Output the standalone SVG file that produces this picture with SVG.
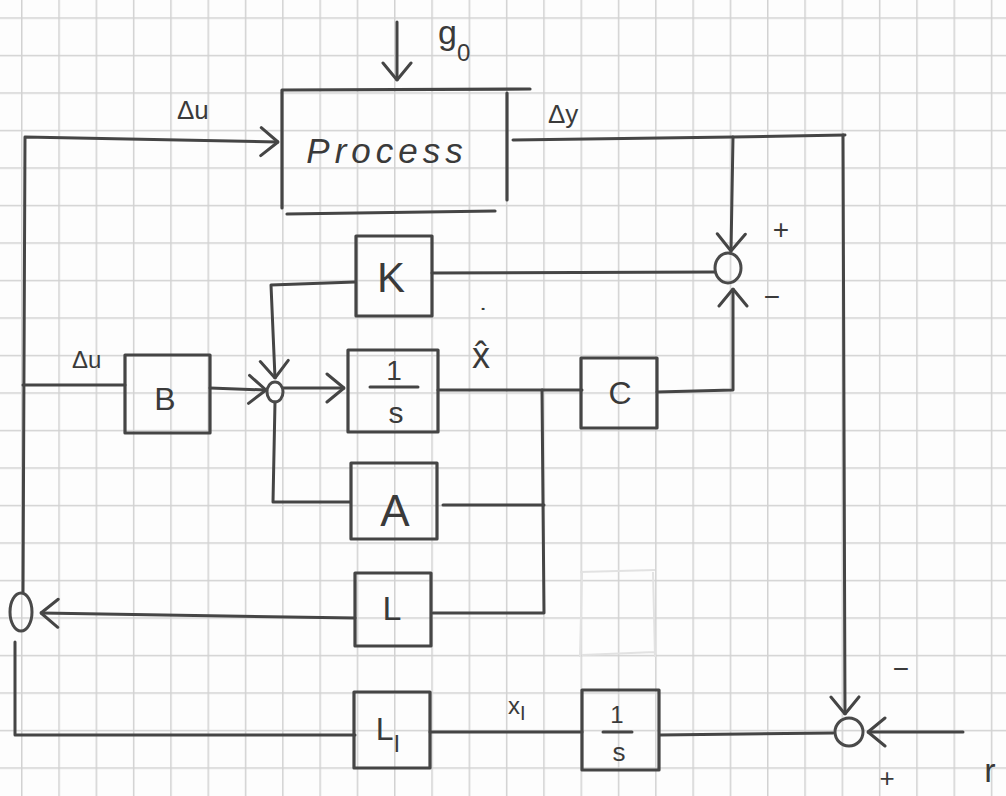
<svg xmlns="http://www.w3.org/2000/svg" width="1006" height="796" viewBox="0 0 1006 796">
<style>
.ln{fill:none;stroke:#454545;stroke-width:3;stroke-linecap:round;stroke-linejoin:round}
.bx{fill:none;stroke:#454545;stroke-width:3.2;stroke-linecap:round;stroke-linejoin:round}
.sm{fill:none;stroke:#4a4a4a;stroke-width:3}
.t{font-family:"Liberation Sans","DejaVu Sans",sans-serif;fill:#3a3a3a}
</style>
<defs>
<pattern id="grid" x="21" y="17.3" width="37.3" height="37.5" patternUnits="userSpaceOnUse">
<path d="M0.75,0 V37.5 M0,0.75 H37.3" stroke="#d2d2d2" stroke-width="1.5" fill="none"/>
</pattern>
<marker id="arr" viewBox="0 0 20 32" refX="19" refY="16" markerWidth="20" markerHeight="32" orient="auto" markerUnits="userSpaceOnUse">
<path d="M2,2 L19,16 L2,30" fill="none" stroke="#454545" stroke-width="3" stroke-linecap="round" stroke-linejoin="round"/>
</marker>
</defs>
<rect width="1006" height="796" fill="#fdfdfd"/>
<rect width="1006" height="796" fill="url(#grid)"/>
<!-- faint erased box -->
<path d="M580,572 L655,570 M582,572 L580,657 M653,572 L655,657 M582,655 L655,652" fill="none" stroke="#e2e2e2" stroke-width="2"/>

<g id="connectors">
<path class="ln" d="M23,593 L25,137 L278,142" marker-end="url(#arr)"/>
<path class="ln" d="M397,22 L397,80" marker-end="url(#arr)"/>
<path class="ln" d="M23,385 L125,385"/>
<path class="ln" d="M210,388 L266,390" marker-end="url(#arr)"/>
<path class="ln" d="M283,388 L344,388" marker-end="url(#arr)"/>
<path class="ln" d="M355,282 L271,285 L275,378" marker-end="url(#arr)"/>
<path class="ln" d="M350,502 L273,502 L275,402"/>
<path class="ln" d="M438,390 L582,390"/>
<path class="ln" d="M542,390 L544,613 L433,613"/>
<path class="ln" d="M544,505 L443,505"/>
<path class="ln" d="M657,392 L733,390 L733,289" marker-end="url(#arr)"/>
<path class="ln" d="M513,140 L733,137 L845,135"/>
<path class="ln" d="M733,137 L731,251" marker-end="url(#arr)"/>
<path class="ln" d="M843,135 L845,714" marker-end="url(#arr)"/>
<path class="ln" d="M715,272 L432,273"/>
<path class="ln" d="M355,618 L41,613" marker-end="url(#arr)"/>
<path class="ln" d="M15,642 L15,735 L355,735"/>
<path class="ln" d="M582,732 L430,732"/>
<path class="ln" d="M833,733 L660,735"/>
<path class="ln" d="M963,732 L868,732" marker-end="url(#arr)"/>
</g>

<g id="process">
<path class="bx" d="M282,90 L530,89 M282,90 L282,208 M507,93 L507,200 M287,214 L495,211"/>
<text class="t" x="387" y="163" font-size="35" font-style="italic" letter-spacing="5" text-anchor="middle">Process</text>
</g>

<g id="B">
<rect class="bx" x="125" y="355" width="85" height="78"/>
<text class="t" x="165" y="410" font-size="32" text-anchor="middle">B</text>
</g>

<g id="K">
<rect class="bx" x="356" y="236" width="76" height="80"/>
<text class="t" x="391" y="292" font-size="42" text-anchor="middle">K</text>
</g>

<g id="integrator1">
<rect class="bx" x="348" y="350" width="90" height="82"/>
<text class="t" x="394" y="380" font-size="28" text-anchor="middle">1</text>
<path class="ln" d="M370,387 L418,387"/>
<text class="t" x="396" y="423" font-size="30" text-anchor="middle">s</text>
</g>

<g id="A">
<rect class="bx" x="351" y="463" width="86" height="76"/>
<text class="t" x="395" y="526" font-size="44" text-anchor="middle">A</text>
</g>

<g id="C">
<rect class="bx" x="581" y="358" width="76" height="70"/>
<text class="t" x="620" y="404" font-size="32" text-anchor="middle">C</text>
</g>

<g id="L">
<rect class="bx" x="355" y="573" width="76" height="73"/>
<text class="t" x="392" y="620" font-size="34" text-anchor="middle">L</text>
</g>

<g id="LI">
<rect class="bx" x="354" y="692" width="76" height="76"/>
<text class="t" x="388" y="740" font-size="32" text-anchor="middle">L<tspan font-size="24" dy="12">I</tspan></text>
</g>

<g id="integrator2">
<rect class="bx" x="582" y="690" width="77" height="80"/>
<text class="t" x="617" y="723" font-size="24" text-anchor="middle">1</text>
<path class="ln" d="M603,732 L632,732"/>
<text class="t" x="619" y="761" font-size="26" text-anchor="middle">s</text>
</g>

<g id="sum1"><ellipse class="sm" cx="275" cy="392" rx="8" ry="10"/></g>
<g id="sum2"><ellipse class="sm" cx="728" cy="268" rx="13" ry="15"/></g>
<g id="sum3"><ellipse class="sm" cx="849" cy="732" rx="14" ry="14" stroke="#7a7a7a"/></g>
<g id="sum4"><ellipse class="sm" cx="21" cy="612" rx="11" ry="19"/></g>

<g id="labels">
<text class="t" x="177" y="119" font-size="26">Δu</text>
<text class="t" x="548" y="123" font-size="26">Δy</text>
<text class="t" x="72" y="368" font-size="24">Δu</text>
<text class="t" x="438" y="44" font-size="34"><tspan text-decoration="underline">g</tspan><tspan font-size="24" dy="17">0</tspan></text>
<text class="t" x="483" y="323" font-size="20" font-weight="bold" text-anchor="middle">˙</text>
<text class="t" x="481" y="368" font-size="36" text-anchor="middle">x̂</text>
<text class="t" x="508" y="714" font-size="24">x<tspan font-size="20" dy="6">I</tspan></text>
<text class="t" x="781" y="239" font-size="28" text-anchor="middle">+</text>
<text class="t" x="772" y="306" font-size="28" text-anchor="middle">−</text>
<text class="t" x="901" y="678" font-size="28" text-anchor="middle">−</text>
<text class="t" x="887" y="787" font-size="26" text-anchor="middle">+</text>
<text class="t" x="990" y="782" font-size="34" text-anchor="middle">r</text>
</g>
</svg>
